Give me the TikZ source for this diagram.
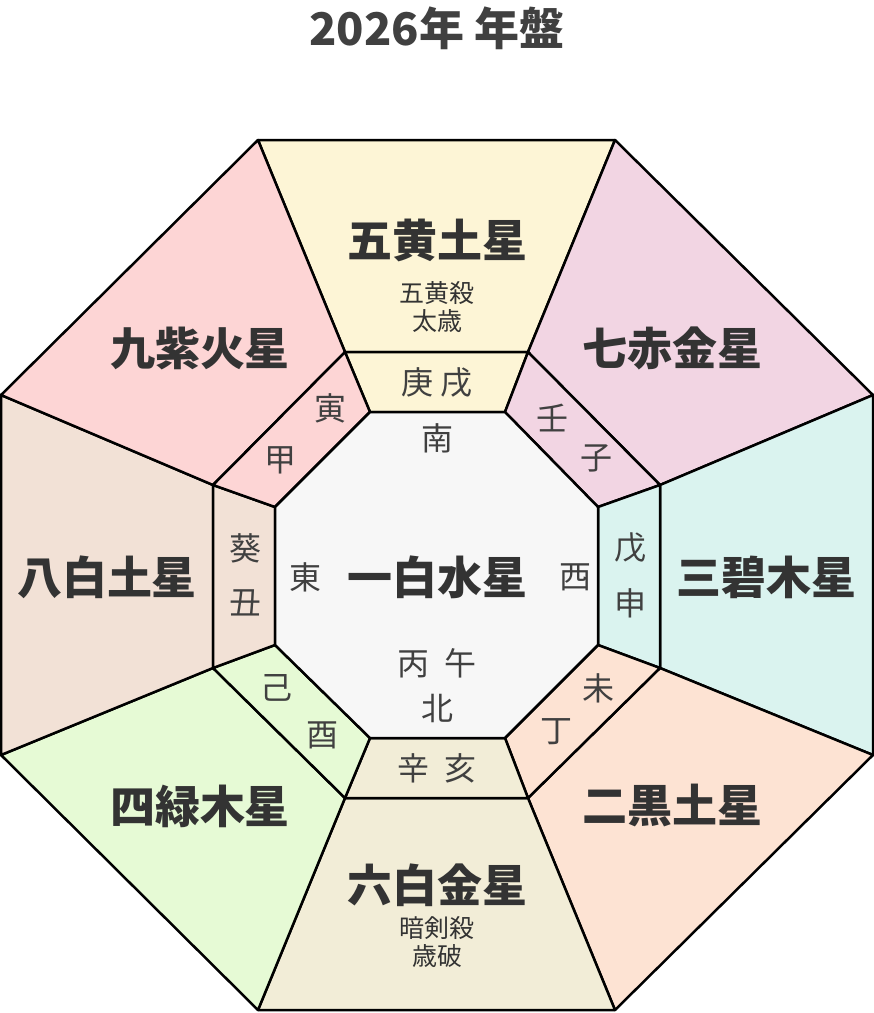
\documentclass[tikz,border=0pt]{standalone}
\usepackage{fontspec}
\setmainfont{Noto Sans CJK JP}
\begin{document}
\begin{tikzpicture}[x=1pt,y=-1pt,line width=2.5pt,line join=round,
  big/.style={font=\fontsize{45}{45}\selectfont\bfseries,text=black!80},
  med/.style={font=\fontsize{32}{32}\selectfont,text=black!75},
  sm/.style={font=\fontsize{25}{28}\selectfont,text=black!80,align=center}]
\useasboundingbox (0,0) rectangle (874,1013);
\coordinate (O1) at (258,140);\coordinate (O2) at (615,140);\coordinate (O3) at (873,395);\coordinate (O4) at (873,755);
\coordinate (O5) at (615,1010);\coordinate (O6) at (258,1010);\coordinate (O7) at (1,755);\coordinate (O8) at (1,395);
\coordinate (M1) at (345,352);\coordinate (M2) at (528,352);\coordinate (M3) at (660,485);\coordinate (M4) at (660,668);
\coordinate (M5) at (528,798);\coordinate (M6) at (345,798);\coordinate (M7) at (213,668);\coordinate (M8) at (213,485);
\coordinate (I1) at (370,412);\coordinate (I2) at (505,412);\coordinate (I3) at (598,507);\coordinate (I4) at (598,645);
\coordinate (I5) at (505,738);\coordinate (I6) at (370,738);\coordinate (I7) at (275,645);\coordinate (I8) at (275,507);
\def\seg#1#2#3#4{
 \filldraw[fill=#4] (O#1)--(O#2)--(M#2)--(M#1)--cycle;
 \filldraw[fill=#4] (M#1)--(M#2)--(I#2)--(I#1)--cycle;}
\definecolor{cN}{HTML}{FDF5D6}\definecolor{cNE}{HTML}{F2D5E3}\definecolor{cE}{HTML}{DAF3EF}
\definecolor{cSE}{HTML}{FDE3D3}\definecolor{cS}{HTML}{F2EDD7}\definecolor{cSW}{HTML}{E6FAD5}
\definecolor{cW}{HTML}{F2E1D6}\definecolor{cNW}{HTML}{FDD5D5}
\seg12{}{cN}\seg23{}{cNE}\seg34{}{cE}\seg45{}{cSE}\seg56{}{cS}\seg67{}{cSW}\seg78{}{cW}\seg81{}{cNW}
\filldraw[fill=black!3] (I1)--(I2)--(I3)--(I4)--(I5)--(I6)--(I7)--(I8)--cycle;
\node[big,text=black!75] (title) at (437,28) {2026年 年盤};
\node[big] (n) at (437,240) {五黄土星};
\node[sm] (n2) at (437,307) {五黄殺\\太歳};
\node[big] (ne) at (672,348) {七赤金星};
\node[big] (e) at (766,577) {三碧木星};
\node[big] (se) at (672,806) {二黒土星};
\node[big] (s) at (437,885) {六白金星};
\node[sm] (s2) at (437,942) {暗剣殺\\歳破};
\node[big] (sw) at (200,806) {四緑木星};
\node[big] (w) at (107,577) {八白土星};
\node[big] (nw) at (200,348) {九紫火星};
\node[big] (c) at (437,577) {一白水星};
\node[med] at (437,438) {南};\node[med] at (305,577) {東};\node[med] at (575,577) {西};
\node[med] at (437,708) {北};\node[med] at (437,663) {丙\ \ 午};
\node[med] at (437,383) {庚\ 戌};\node[med] at (552,418) {壬};\node[med] at (596,458) {子};
\node[med] at (630,548) {戊};\node[med] at (630,603) {申};\node[med] at (598,688) {未};
\node[med] at (556,732) {丁};\node[med] at (437,768) {辛\ \ 亥};\node[med] at (276,688) {己};
\node[med] at (322,735) {酉};\node[med] at (245,548) {葵};\node[med] at (245,603) {丑};
\node[med] at (280,460) {甲};\node[med] at (330,408) {寅};
\end{tikzpicture}
\end{document}
